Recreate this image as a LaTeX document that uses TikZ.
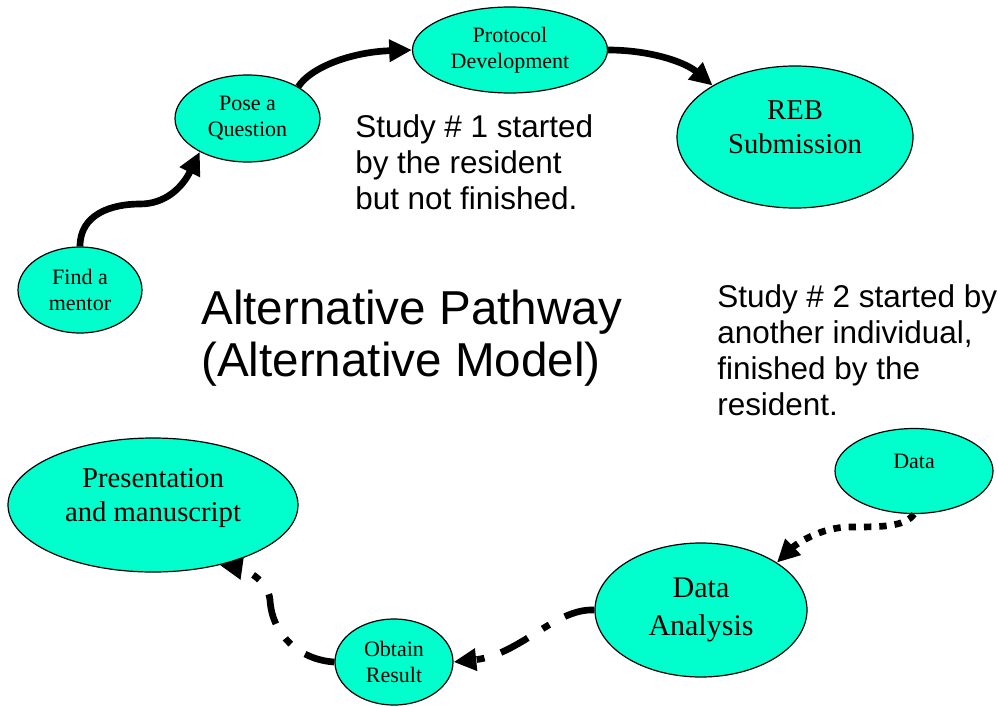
\documentclass[tikz,border=0pt]{standalone}
\usepackage{fontspec}
\setmainfont{Liberation Serif}
\newfontfamily\arialfam{Liberation Sans}
\usetikzlibrary{arrows.meta,shapes.geometric}
\definecolor{bubblefill}{RGB}{0,255,204}
\newcommand{\lowpad}{\rule[-15pt]{0pt}{0pt}}

\begin{document}
\begin{tikzpicture}[
    x=0.75pt, y=-0.75pt,
    bubble/.style={ellipse, draw=black, fill=bubblefill, line width=0.9pt, inner sep=0pt, align=center},
    small/.style={font=\fontsize{16.5}{19.5}\selectfont},
    large/.style={font=\fontsize{21.5}{25.5}\selectfont},
    link/.style={line width=5pt, -{Triangle[length=17pt,width=16pt]}},
    dotlink/.style={link, dash pattern=on 5.5pt off 6pt},
    dashdotlink/.style={link, dash pattern=on 23pt off 13pt on 6pt off 13pt},
    note/.style={anchor=north west, inner sep=0pt, align=left, font=\arialfam\fontsize{23.6}{27.2}\selectfont}
  ]
    \useasboundingbox (0,0) rectangle (998,706);
    % Study 1: started by the resident
    \node[bubble, small, minimum width=93pt, minimum height=64.5pt] (mentor) at (80,290) {Find a\\mentor};
    \node[bubble, small, minimum width=108.75pt, minimum height=65.25pt] (pose) at (247.5,118.5) {Pose a\\Question};
    \node[bubble, small, minimum width=146.25pt, minimum height=64.5pt] (protocol) at (510,50) {Protocol\\Development};
    \node[bubble, large, minimum width=177pt, minimum height=106.5pt] (reb) at (795,137) {REB\\Submission\lowpad};
    % Study 2: finished by the resident
    \node[bubble, small, minimum width=118.5pt, minimum height=63.75pt] (data) at (914,471) {Data\lowpad};
    \node[bubble, minimum width=159pt, minimum height=100.5pt, font=\fontsize{22.5}{28.5}\selectfont] (analysis) at (701,610) {Data\\Analysis};
    \node[bubble, small, minimum width=88.5pt, minimum height=64.5pt] (obtain) at (394,662) {Obtain\\Result};
    \node[bubble, large, minimum width=217.5pt, minimum height=100.5pt] (present) at (153,505) {Presentation\\and manuscript\lowpad};
    % texts
    \node[note] (study1) at (355,114) {Study \# 1 started\\by the resident\\but not finished.};
    \node[note] (study2) at (717,284) {Study \# 2 started by\\another individual,\\finished by the\\resident.};
    \node[note, font=\arialfam\fontsize{35.7}{39}\selectfont] (title) at (201,290) {Alternative Pathway\\(Alternative Model)};
    % arrows
    \coordinate (bend) at (140,204);
    \draw[link] (mentor.north) .. controls (80,215) and (110,204) .. (bend) .. controls (165,204) and (182,188) .. (pose.215);
    \draw[link] (pose.32) .. controls (310,68) and (350,52) .. (protocol.west);
    \draw[link] (protocol.east) .. controls (650,50) and (685,62) .. (reb.148);
    \coordinate (dotbend) at (850,527);
    \draw[dotlink] (data.south) .. controls (905,527) and (880,527) .. (dotbend) .. controls (820,527) and (795,545) .. (analysis.32);
    \draw[dashdotlink] (analysis.west) .. controls (555,608) and (520,655) .. (obtain.east);
    \coordinate (dashbend) at (270,600);
    \draw[dashdotlink] (obtain.west) .. controls (300,660) and (272,635) .. (dashbend) .. controls (268,578) and (240,568) .. (present.318);
  \end{tikzpicture}
\end{document}
